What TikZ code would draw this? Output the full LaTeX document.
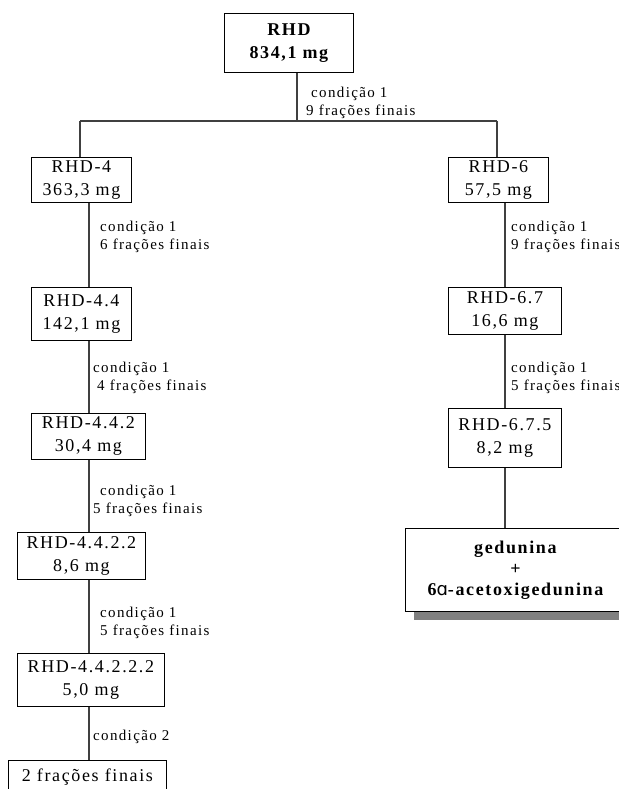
\documentclass[tikz,border=0pt]{standalone}
\usepackage{fontspec}
\setmainfont{Liberation Serif}[LetterSpace=9]
\newfontfamily\alphafont{DejaVu Sans}
\usetikzlibrary{positioning,shadows}
\definecolor{mygray}{RGB}{128,128,128}
\definecolor{linegray}{RGB}{64,64,64}

\begin{document}
\begin{tikzpicture}[x=1pt,y=-1pt,inner sep=0pt]
\tikzstyle{box}=[rectangle, draw=black, line width=0.8pt, anchor=north west, align=center, font=\fontsize{18}{23}\selectfont]
\tikzstyle{cond}=[anchor=west, align=left, font=\fontsize{15}{18}\selectfont]
\tikzstyle{link}=[line width=1.2pt, draw=linegray]
\useasboundingbox (0,0) rectangle (618,789);
\node[box,font=\fontsize{18}{23}\selectfont\bfseries,minimum width=129,minimum height=59] (rhd) at (224,13) {RHD\\834,1 mg};
\node[box,minimum width=100,minimum height=45] (rhd4) at (31,157) {RHD-4\\363,3 mg};
\node[box,minimum width=100,minimum height=53] (rhd44) at (31,287) {RHD-4.4\\142,1 mg};
\node[box,minimum width=114,minimum height=46] (rhd442) at (31,413) {RHD-4.4.2\\30,4 mg};
\node[box,minimum width=128,minimum height=47] (rhd4422) at (17,532) {RHD-4.4.2.2\\8,6 mg};
\node[box,minimum width=147,minimum height=53] (rhd44222) at (17,653) {RHD-4.4.2.2.2\\5,0 mg};
\node[box,minimum width=158,minimum height=34] (fracoes) at (8,760) {2 frações finais};
\node[box,minimum width=100,minimum height=45] (rhd6) at (448,157) {RHD-6\\57,5 mg};
\node[box,minimum width=113,minimum height=47] (rhd67) at (448,287) {RHD-6.7\\16,6 mg};
\node[box,minimum width=113,minimum height=59] (rhd675) at (448,408) {RHD-6.7.5\\8,2 mg};
\node[box,fill=white,drop shadow={opacity=1,fill=mygray,shadow xshift=9pt,shadow yshift=-9pt},
  font=\fontsize{18}{21}\selectfont\bfseries,minimum width=220,minimum height=83] (gedunina) at (405,528)
  {gedunina\\+\\6{\alphafont\mdseries ɑ}-acetoxigedunina};
% junction points
\coordinate (split) at (297,121);
\coordinate (splitL) at (80,121);
\coordinate (splitR) at (497,121);
\coordinate (colL) at (89,0);
\coordinate (colR) at (505,0);
\draw[link] (rhd.south -| split) -- (split);
\draw[link] (splitL) -- (splitR);
\draw[link] (splitL) -- (rhd4.north -| splitL);
\draw[link] (splitR) -- (rhd6.north -| splitR);
\draw[link] (rhd4.south -| colL) -- (rhd44.north -| colL);
\draw[link] (rhd44.south -| colL) -- (rhd442.north -| colL);
\draw[link] (rhd442.south -| colL) -- (rhd4422.north -| colL);
\draw[link] (rhd4422.south -| colL) -- (rhd44222.north -| colL);
\draw[link] (rhd44222.south -| colL) -- (fracoes.north -| colL);
\draw[link] (rhd6.south -| colR) -- (rhd67.north -| colR);
\draw[link] (rhd67.south -| colR) -- (rhd675.north -| colR);
\draw[link] (rhd675.south -| colR) -- (gedunina.north -| colR);
% conditions
\node[cond] (c0) at (306,103) {\hspace*{5pt}condição 1\\9 frações finais};
\node[cond] (c4) at (100,237) {condição 1\\6 frações finais};
\node[cond] (c44) at (93,378) {condição 1\\\hspace*{4pt}4 frações finais};
\node[cond] (c442) at (93,501) {\hspace*{7pt}condição 1\\5 frações finais};
\node[cond] (c4422) at (100,623) {condição 1\\5 frações finais};
\node[cond] (c44222) at (93,737) {condição 2};
\node[cond] (c6) at (511,237) {condição 1\\9 frações finais};
\node[cond] (c67) at (511,378) {condição 1\\5 frações finais};
\end{tikzpicture}
\end{document}
